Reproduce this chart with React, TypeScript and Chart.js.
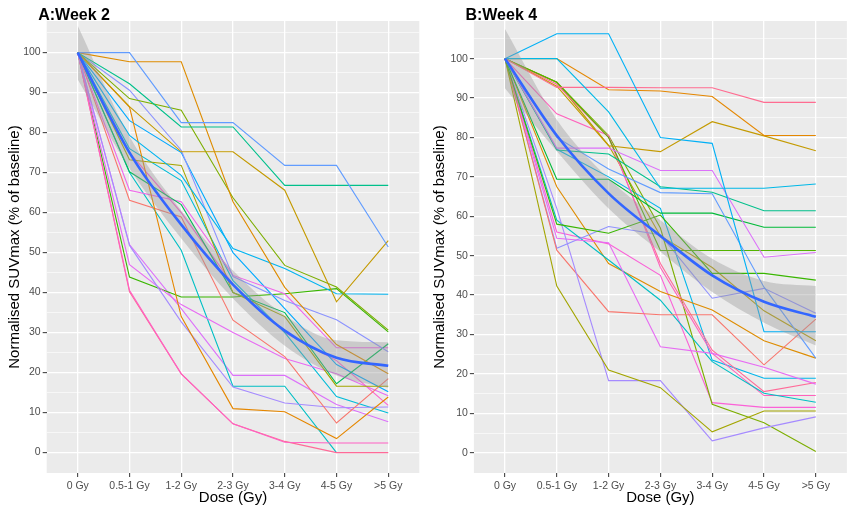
import React, { useEffect, useRef } from "react";
import { Chart, registerables } from "chart.js";

Chart.register(...registerables);

const FONT = '"Liberation Sans", Arial, Helvetica, sans-serif';

const doseLabels = ["0 Gy", "0.5-1 Gy", "1-2 Gy", "2-3 Gy", "3-4 Gy", "4-5 Gy", ">5 Gy"];
const yGridValues = [0, 5, 10, 15, 20, 25, 30, 35, 40, 45, 50, 55, 60, 65, 70, 75, 80, 85, 90, 95, 100, 105];

// Week 2: one row per patient, one value per dose bin
const week2Values: (number | null)[][] = [
  [100, 100, 82.5, 82.5, 71.8, 71.8, 51.4],
  [100, 92.2, 81.4, 81.4, 66.8, 66.8, 66.8],
  [100, 97.7, 97.7, 62.7, 41.3, 27, 19.7],
  [100, 86.5, 75.2, 75.2, 65.6, 37.7, 53],
  [100, 88.5, 85.6, 63.7, 46.8, 41.4, 30.6],
  [100, 79.3, 69.3, 51, 46, 39.7, 39.6],
  [100, 90.6, 75.6, 44, 38, 33.2, 25.2],
  [100, 86.4, 34, 11, 10.2, 3.5, 13.9],
  [100, 73.2, 71.8, 40, 34, 16.6, 16.6],
  [100, 70.2, 62, 40, 35, 17.2, 27.2],
  [100, 65.6, 62.7, 44.3, 39.7, 26.2, 26.2],
  [100, 63.1, 58.9, 33.1, 24, 7.4, 18.5],
  [100, 51.8, 32.7, 16.4, 12.4, 11.2, 11.4],
  [100, 47, 37, 30, 23.5, 19.7, 14.2],
  [100, 40.6, 19.7, 7.2, 2.6, 2.4, 2.4],
  [100, 40.2, 19.7, 7.2, 2.8, 0, 0],
  [100, 70, 50.6, 16.6, 16.6, 0, null],
  [100, 76, 68, 43, 30, 14, 9.9],
  [100, 83, 75, 50, 36, 22, 15.2],
  [100, 43.9, 38.9, 38.9, 39.7, 41, 30.2],
  [100, 75, 60, 42, 30, 23, 11.8],
  [100, 52, 36, 19.3, 19.3, 12, 7.7],
];
const week2Colors = [
  "#619CFF", "#00C08B", "#DE8C00", "#C49A00", "#7CAE00", "#00B4F0", "#8B93FF", "#E58700",
  "#A3A500", "#00BC56", "#F066EA", "#F8766D", "#A58AFF", "#E76BF3", "#FF61C3", "#FF6A98",
  "#00BFC4", "#00BCD8", "#00A9FF", "#39B600", "#FD61D1", "#DC71FA",
];
const week2Mean = [100, 75, 57, 42, 30.5, 23.7, 21.7];
const week2Lower = [93.3, 71, 53.5, 38.5, 26.7, 19.3, 16.2];
const week2Upper = [106.7, 79, 60.5, 45.5, 34.3, 28.1, 27.6];

// Week 4
const week4Values: (number | null)[][] = [
  [100, 106.3, 106.3, 80, 78.5, 30.7, 30.7],
  [100, 100, 86.5, 67.1, 67.1, 67.1, 68.2],
  [100, 92.7, 92.7, 92.6, 92.6, 88.9, 88.9],
  [100, 100, 92.1, 91.8, 90.4, 80.5, 80.5],
  [100, 93, 77.9, 76.4, 84, 80.4, 76.6],
  [100, 77.3, 77.3, 71.6, 71.6, 49.6, 50.8],
  [100, 76.8, 75.8, 67.5, 66.1, 61.4, 61.4],
  [100, 80, 72, 66, 65.7, 42, 24],
  [100, 69.4, 69.4, 60.8, 60.8, 57.2, 57.2],
  [100, 94, 80, 51.3, 51.3, 51.3, 51.3],
  [100, 58, 55.7, 60.3, 45.5, 45.5, 43.8],
  [100, 42.3, 21, 16.5, 5.3, 10.6, 10.6],
  [100, 62, 18.3, 18.3, 3, 6.3, 9.1],
  [100, 51.4, 35.8, 35, 35, 22.3, 33.9],
  [100, 54.4, 53.3, 26.9, 25.2, 21.7, 17.4],
  [100, 51.9, 57.4, 55.3, 39.2, 41.7, 35.4],
  [100, 59, 48.9, 38.7, 23.1, 15.1, 12.8],
  [100, 67.5, 48, 40.9, 36.2, 28.4, 24],
  [100, 86, 80.5, 47, 25.2, 14.5, 14.5],
  [100, 93.5, 80, 48, 26, 15.5, 17.8],
  [100, 77, 70, 62, 23.5, 18.9, 18.9],
  [100, 94, 80.5, 57, 12.3, 7.6, 0.3],
  [100, 56, 53, 45, 12.7, 11.5, 11.5],
  [100, 94, 78, 55, 47, 36, 28.4],
];
const week4Colors = [
  "#00B0F6", "#00B8E7", "#FF6C91", "#E58700", "#C49A00", "#DC71FA", "#00C08B", "#619CFF",
  "#00BA38", "#53B400", "#39B600", "#A3A500", "#A58AFF", "#F8766D", "#E76BF3", "#8F91FF",
  "#00BFC4", "#DE8C00", "#FF62BC", "#FF6A98", "#00B6EB", "#7CAE00", "#FB61D7", "#B79F00",
];
const week4Mean = [100, 80.5, 65.8, 55, 45, 38.3, 34.5];
const week4Lower = [92.5, 76.5, 62, 51, 40.8, 33, 27.2];
const week4Upper = [107.5, 84.5, 69.6, 59, 49.2, 43.6, 42.3];

interface PanelProps {
  title: string;
  values: (number | null)[][];
  colors: string[];
  mean: number[];
  lower: number[];
  upper: number[];
  yMin: number;
  yMax: number;
  yWidth: number;
  padRight: number;
}

const toPoints = (arr: (number | null)[]) => arr.map((v, i) => ({ x: i, y: v }));

const Panel: React.FC<PanelProps> = ({ title, values, colors, mean, lower, upper, yMin, yMax, yWidth, padRight }) => {
  const canvasRef = useRef<HTMLCanvasElement | null>(null);

  useEffect(() => {
    if (!canvasRef.current) return;

    const panelPlugin = {
      id: "panelBg",
      beforeDraw(chart: any) {
        const { ctx, chartArea: a } = chart;
        ctx.save();
        ctx.fillStyle = "#EBEBEB";
        ctx.fillRect(a.left, a.top, a.right - a.left, a.bottom - a.top);
        ctx.restore();
      },
      afterDraw(chart: any) {
        const { ctx } = chart;
        ctx.save();
        ctx.fillStyle = "#000000";
        ctx.font = `bold 16px ${FONT}`;
        ctx.textBaseline = "alphabetic";
        ctx.textAlign = "left";
        ctx.fillText(title, yWidth - 8.5, 19.5);
        ctx.restore();
      },
    };

    const patientSets = values.map((row, i) => ({
      data: toPoints(row),
      borderColor: colors[i % colors.length],
      borderWidth: 1.1,
      pointRadius: 0,
      tension: 0,
      fill: false,
    }));

    const chart = new Chart(canvasRef.current, {
      type: "line",
      data: {
        datasets: [
          {
            data: toPoints(mean),
            borderColor: "#3366FF",
            borderWidth: 2.6,
            pointRadius: 0,
            cubicInterpolationMode: "monotone",
            fill: false,
          },
          {
            data: toPoints(upper),
            borderColor: "rgba(0,0,0,0)",
            borderWidth: 0,
            backgroundColor: "rgba(153,153,153,0.4)",
            pointRadius: 0,
            cubicInterpolationMode: "monotone",
            fill: "+1",
          },
          {
            data: toPoints(lower),
            borderColor: "rgba(0,0,0,0)",
            borderWidth: 0,
            pointRadius: 0,
            cubicInterpolationMode: "monotone",
            fill: false,
          },
          ...patientSets,
        ] as any,
      },
      options: {
        responsive: false,
        animation: false,
        events: [],
        layout: { padding: { top: 21, right: padRight, left: 0, bottom: 0 } },
        plugins: {
          legend: { display: false },
          tooltip: { enabled: false },
          filler: { drawTime: "beforeDatasetDraw" },
        },
        scales: {
          x: {
            type: "linear",
            min: -0.6,
            max: 6.6,
            afterBuildTicks: (scale: any) => {
              scale.ticks = doseLabels.map((_, i) => ({ value: i }));
            },
            afterFit: (scale: any) => {
              scale.height = 41;
            },
            ticks: {
              autoSkip: false,
              maxRotation: 0,
              padding: 3,
              color: "#4D4D4D",
              font: { family: FONT, size: 10.5 },
              callback: (v: any) => doseLabels[v as number] ?? "",
            },
            grid: {
              color: "#FFFFFF",
              lineWidth: 1.3,
              tickColor: "#333333",
              tickLength: 4,
              tickWidth: 1,
            },
            border: { display: false },
            title: {
              display: true,
              text: "Dose (Gy)",
              color: "#000000",
              font: { family: FONT, size: 15 },
              padding: { top: 0, bottom: 7 },
            },
          },
          y: {
            type: "linear",
            min: yMin,
            max: yMax,
            afterBuildTicks: (scale: any) => {
              scale.ticks = yGridValues.map((v) => ({ value: v }));
            },
            afterFit: (scale: any) => {
              scale.width = yWidth;
            },
            ticks: {
              autoSkip: false,
              padding: 2,
              color: "#4D4D4D",
              font: { family: FONT, size: 10.5 },
              callback: (v: any) => ((v as number) % 10 === 0 && (v as number) <= 100 ? String(v) : ""),
            },
            grid: {
              color: "#FFFFFF",
              lineWidth: (c: any) => (c.tick && c.tick.value % 10 === 0 ? 1.3 : 0.6),
              tickColor: (c: any) => (c.tick && c.tick.value % 10 === 0 && c.tick.value <= 100 ? "#333333" : "rgba(0,0,0,0)"),
              tickLength: 4,
              tickWidth: 1,
            },
            border: { display: false },
            title: {
              display: true,
              text: "Normalised SUVmax (% of baseline)",
              color: "#000000",
              font: { family: FONT, size: 15 },
              padding: { top: 6, bottom: 0 },
            },
          },
        },
      } as any,
      plugins: [panelPlugin],
    });

    return () => {
      chart.destroy();
    };
  }, [title, values, colors, mean, lower, upper, yMin, yMax, yWidth, padRight]);

  return <canvas ref={canvasRef} width={425} height={514} style={{ display: "block" }} />;
};

export default function App() {
  useEffect(() => {
    document.body.style.margin = "0";
  }, []);

  return (
    <div style={{ position: "relative", width: 850, height: 514, background: "#FFFFFF" }}>
      <div style={{ position: "absolute", left: 0, top: 0 }}>
        <Panel
          title="A:Week 2"
          values={week2Values}
          colors={week2Colors}
          mean={week2Mean}
          lower={week2Lower}
          upper={week2Upper}
          yMin={-5.1}
          yMax={107.9}
          yWidth={46.7}
          padRight={5.7}
        />
      </div>
      <div style={{ position: "absolute", left: 425, top: 0 }}>
        <Panel
          title="B:Week 4"
          values={week4Values}
          colors={week4Colors}
          mean={week4Mean}
          lower={week4Lower}
          upper={week4Upper}
          yMin={-5.15}
          yMax={109.55}
          yWidth={48.9}
          padRight={3.1}
        />
      </div>
    </div>
  );
}
